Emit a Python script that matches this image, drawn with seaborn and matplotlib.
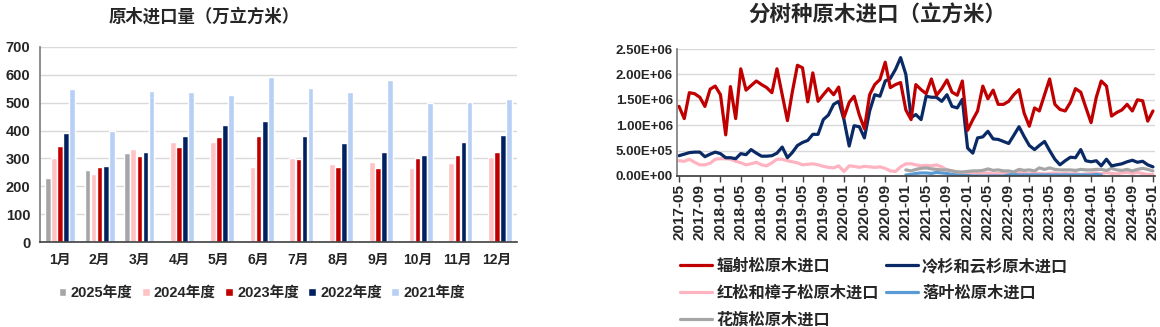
import numpy as np
import pandas as pd
import matplotlib
matplotlib.use("Agg")
import matplotlib.pyplot as plt
import seaborn as sns
from matplotlib.ticker import FuncFormatter, MultipleLocator

# ---------------- data: left chart (万立方米) ----------------
months = ["1月", "2月", "3月", "4月", "5月", "6月", "7月", "8月", "9月", "10月", "11月", "12月"]
years = ["2025年度", "2024年度", "2023年度", "2022年度", "2021年度"]
v2025 = [230, 260, 318, None, None, None, None, None, None, None, None, None]
v2024 = [300, 244, 333, 360, 360, 268, 300, 280, 288, 264, 285, 305]
v2023 = [344, 269, 309, 341, 377, 380, 297, 269, 264, 300, 312, 324]
v2022 = [392, 273, 324, 380, 420, 433, 380, 355, 324, 312, 360, 384]
v2021 = [549, 400, 541, 537, 529, 593, 553, 537, 581, 499, 501, 513]
bar_colors = ["#A6A6A6", "#FFC3C3", "#C00000", "#002060", "#B8D0F6"]

# ---------------- data: right chart (立方米, in 1e6) ----------------
start_month = "2017-05"
radiata = [1.37, 1.13, 1.64, 1.62, 1.55, 1.37, 1.71, 1.77, 1.60, 0.81,
           1.76, 1.13, 2.11, 1.69, 1.78, 1.87, 1.80, 1.74, 1.64, 2.11,
           1.60, 1.09, 1.64, 2.18, 2.13, 1.46, 2.03, 1.47, 1.60, 1.72,
           1.60, 1.75, 1.15, 1.45, 1.57, 1.20, 0.93, 1.60, 1.80, 1.90,
           2.24, 1.74, 1.80, 1.84, 1.30, 1.11, 1.80, 1.70, 1.62, 1.91,
           1.59, 1.72, 1.89, 1.65, 1.59, 1.87, 0.90, 1.11, 1.28, 1.77,
           1.52, 1.69, 1.41, 1.41, 1.47, 1.60, 1.70, 1.24, 0.98, 1.34,
           1.28, 1.60, 1.91, 1.41, 1.31, 1.28, 1.45, 1.72, 1.65, 1.35,
           1.05, 1.55, 1.87, 1.77, 1.18, 1.25, 1.30, 1.41, 1.28, 1.50,
           1.48, 1.08, 1.28]
fir_spruce = [0.40, 0.43, 0.46, 0.47, 0.47, 0.38, 0.43, 0.47, 0.44, 0.36,
              0.36, 0.34, 0.44, 0.42, 0.52, 0.45, 0.39, 0.39, 0.40, 0.45,
              0.57, 0.36, 0.46, 0.60, 0.66, 0.70, 0.82, 0.82, 1.11, 1.20,
              1.41, 1.47, 1.11, 0.59, 0.99, 0.97, 0.75, 1.28, 1.60, 1.57,
              1.87, 1.92, 2.10, 2.33, 2.00, 1.15, 1.21, 1.11, 1.57, 1.55,
              1.55, 1.47, 1.60, 1.37, 1.34, 1.51, 0.55, 0.45, 0.75, 0.77,
              0.88, 0.73, 0.72, 0.68, 0.64, 0.80, 0.97, 0.78, 0.60, 0.52,
              0.60, 0.68, 0.50, 0.33, 0.22, 0.30, 0.37, 0.36, 0.52, 0.30,
              0.28, 0.30, 0.20, 0.33, 0.20, 0.22, 0.24, 0.28, 0.31, 0.27,
              0.29, 0.22, 0.18]
red_pine = [0.30, 0.29, 0.33, 0.27, 0.22, 0.22, 0.25, 0.33, 0.34, 0.34,
            0.33, 0.29, 0.26, 0.22, 0.24, 0.27, 0.22, 0.20, 0.26, 0.33,
            0.33, 0.30, 0.28, 0.26, 0.22, 0.23, 0.24, 0.22, 0.19, 0.17,
            0.16, 0.20, 0.09, 0.20, 0.19, 0.17, 0.19, 0.18, 0.17, 0.18,
            0.15, 0.10, 0.09, 0.18, 0.24, 0.24, 0.22, 0.20, 0.21, 0.20,
            0.22, 0.18, 0.12, 0.10, 0.08, 0.06, 0.05, 0.06, 0.05, 0.06,
            0.06, 0.04, 0.05, 0.06, 0.04, 0.05, 0.07, 0.05, 0.04, 0.06,
            0.05, 0.04, 0.05, 0.06, 0.04, 0.05, 0.04, 0.05, 0.03, 0.04,
            0.05, 0.06, 0.04, 0.07, 0.05, 0.04, 0.06, 0.07, 0.05, 0.07,
            0.05, 0.03, 0.03]
larch = [None] * 44 + [0.02, 0.03, 0.05, 0.06, 0.06, 0.05, 0.07, 0.06, 0.05, 0.03,
                       0.02, 0.01, 0.01, 0.00, 0.00, 0.00, 0.00, 0.00, 0.00, 0.00,
                       0.02, 0.03, 0.02, None, None, None, None, None, None, None,
                       None, None, None, None, None, None, 0.02, 0.03, 0.02, None,
                       None, None, None, None, None, None, None, None, None]
douglas = [None] * 44 + [0.12, 0.10, 0.13, 0.15, 0.16, 0.14, 0.13, 0.12, 0.12, 0.10,
                         0.08, 0.08, 0.09, 0.10, 0.10, 0.11, 0.14, 0.11, 0.12, 0.10,
                         0.10, 0.08, 0.13, 0.11, 0.12, 0.10, 0.16, 0.13, 0.16, 0.13,
                         0.12, 0.12, 0.12, 0.11, 0.13, 0.12, 0.12, 0.13, 0.13, 0.11,
                         0.15, 0.12, 0.11, 0.13, 0.10, 0.13, 0.15, 0.13, 0.10]
series_names = ["辐射松原木进口", "冷杉和云杉原木进口", "红松和樟子松原木进口", "落叶松原木进口", "花旗松原木进口"]
line_colors = ["#C00000", "#0A2A66", "#FFB3C1", "#5B9BD5", "#A6A6A6"]

# ---------------- style ----------------
sns.set_theme(style="white")
fam = ["Liberation Sans", "Noto Sans CJK SC", "DejaVu Sans"]
plt.rcParams["font.family"] = fam
plt.rcParams["font.weight"] = "bold"
plt.rcParams["axes.unicode_minus"] = False

fig = plt.figure(figsize=(11.6, 3.27), dpi=100)
W, H = 1160, 327

def axes_px(x0, y0, x1, y1):
    return fig.add_axes([x0 / W, 1 - y1 / H, (x1 - x0) / W, (y1 - y0) / H])

# ---------------- left: grouped bars ----------------
rows = []
for yname, vals in zip(years, [v2025, v2024, v2023, v2022, v2021]):
    for m, v in zip(months, vals):
        if v is not None:
            rows.append({"month": m, "year": yname, "value": v})
dfb = pd.DataFrame(rows)

ax1 = axes_px(40, 47, 517, 242)
sns.barplot(data=dfb, x="month", y="value", hue="year", order=months,
            hue_order=years, palette=bar_colors, width=0.76, gap=0.06,
            saturation=1, ax=ax1, legend=True)
ax1.set_ylim(0, 700)
ax1.yaxis.set_major_locator(MultipleLocator(100))
ax1.set_xlim(-0.5, 11.5)
ax1.set_xlabel("")
ax1.set_ylabel("")
ax1.grid(axis="y", color="#D9D9D9", linewidth=1)
ax1.set_axisbelow(True)
for s in ["top", "right"]:
    ax1.spines[s].set_visible(False)
ax1.spines["left"].set_color("#808080")
ax1.spines["bottom"].set_color("#404040")
ax1.spines["bottom"].set_linewidth(1.2)
ax1.tick_params(axis="x", length=0, labelsize=10, pad=8)
ax1.tick_params(axis="y", length=0, labelsize=10.5, pad=7)
for t in ax1.get_xticklabels() + ax1.get_yticklabels():
    t.set_fontweight("bold")
h, l = ax1.get_legend_handles_labels()
ax1.legend_.remove()
fig.legend(h, l, loc="center", bbox_to_anchor=(262 / W, 1 - 293 / H), ncol=5,
           frameon=False, handlelength=0.5, handleheight=0.5, handletextpad=0.3,
           columnspacing=0.65, prop={"family": fam, "weight": "bold", "size": 10.5})
fig.text(204 / W, 1 - 16 / H, "原木进口量（万立方米）", ha="center", va="center",
         fontsize=12.5, fontweight="bold", family=fam)

# ---------------- right: lines ----------------
dates = pd.date_range(start_month, periods=len(radiata), freq="MS")
lrows = []
for name, vals in zip(series_names, [radiata, fir_spruce, red_pine, larch, douglas]):
    for d, v in zip(dates, vals):
        lrows.append({"date": d, "series": name,
                      "value": np.nan if v is None else v * 1e6})
dfl = pd.DataFrame(lrows)

ax2 = axes_px(677, 49, 1155, 176)
draw_order = ["红松和樟子松原木进口", "落叶松原木进口", "花旗松原木进口", "冷杉和云杉原木进口", "辐射松原木进口"]
pal = dict(zip(series_names, line_colors))
for name in draw_order:
    sub = dfl[dfl["series"] == name]
    sns.lineplot(data=sub, x="date", y="value", color=pal[name], linewidth=2.3,
                 ax=ax2, label=name, estimator=None, sort=True)
ax2.set_ylim(0, 2.5e6)
ax2.yaxis.set_major_locator(MultipleLocator(5e5))
ax2.yaxis.set_major_formatter(FuncFormatter(lambda v, p: "%.2E" % v))
ax2.set_xlim(dates[0] - pd.Timedelta(days=12), dates[-1] + pd.Timedelta(days=12))
ax2.set_xticks(dates[::4])
ax2.set_xticklabels([d.strftime("%Y-%m") for d in dates[::4]], rotation=90)
ax2.set_xlabel("")
ax2.set_ylabel("")
ax2.grid(axis="y", color="#D9D9D9", linewidth=1)
ax2.set_axisbelow(True)
for s in ["top", "right"]:
    ax2.spines[s].set_visible(False)
ax2.spines["left"].set_color("#808080")
ax2.spines["bottom"].set_color("#404040")
ax2.tick_params(axis="x", length=4, width=1, color="#404040", bottom=True,
                direction="out", labelsize=11, pad=2)
ax2.tick_params(axis="y", length=0, labelsize=9.5, pad=3)
for t in ax2.get_xticklabels() + ax2.get_yticklabels():
    t.set_fontweight("bold")
h2, l2 = ax2.get_legend_handles_labels()
ax2.legend_.remove()
leg_order = ["辐射松原木进口", "红松和樟子松原木进口", "花旗松原木进口", "冷杉和云杉原木进口", "落叶松原木进口"]
hm = dict(zip(l2, h2))
fig.legend([hm[n] for n in leg_order], leg_order, loc="upper left",
           bbox_to_anchor=(680 / W, 1 - 258 / H), ncol=2, frameon=False,
           handlelength=2.0, handletextpad=0.25, columnspacing=0.4,
           labelspacing=0.72, borderaxespad=0, borderpad=0,
           prop={"family": fam, "weight": "bold", "size": 11.7})
fig.text(877 / W, 1 - 16 / H, "分树种原木进口（立方米）", ha="center", va="center",
         fontsize=15.5, fontweight="bold", family=fam)

fig.savefig("out.png", dpi=100)
